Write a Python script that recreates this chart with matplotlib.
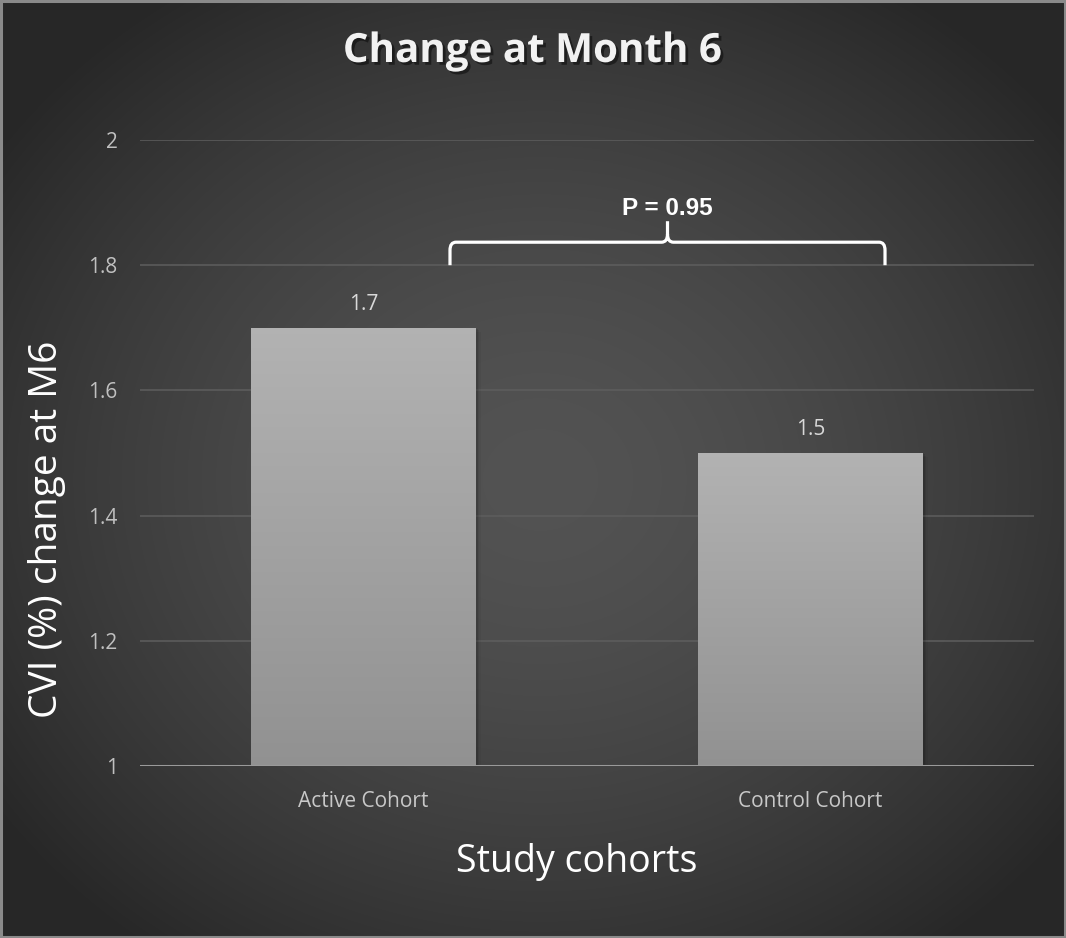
import numpy as np
import matplotlib
matplotlib.use("Agg")
import matplotlib.pyplot as plt
from matplotlib.path import Path
from matplotlib.patches import PathPatch, Rectangle
import matplotlib.patheffects as pe

# Data
cohorts = ["Active Cohort", "Control Cohort"]
cvi_change = [1.7, 1.5]
y_ticks = [1, 1.2, 1.4, 1.6, 1.8, 2]
y_tick_labels = ["1", "1.2", "1.4", "1.6", "1.8", "2"]
p_value_text = "P = 0.95"

W, H, DPI = 1066, 938, 100
fig = plt.figure(figsize=(W / DPI, H / DPI), dpi=DPI)

# Radial gradient background
bg_ax = fig.add_axes([0, 0, 1, 1], zorder=-10)
yy, xx = np.mgrid[0:H, 0:W]
cx, cy = 540, 480
r = np.sqrt(((xx - cx) / (W * 0.62)) ** 2 + ((yy - cy) / (H * 0.62)) ** 2)
r = np.clip(r, 0, 1)
lum = 0.325 - 0.17 * r ** 1.6
bg_ax.imshow(np.dstack([lum, lum, lum]), extent=[0, 1, 0, 1], aspect="auto",
             interpolation="bilinear")
bg_ax.set_axis_off()
fig.patches.append(Rectangle((0.001, 0.001), 0.998, 0.998, transform=fig.transFigure,
                             fill=False, edgecolor="#8a8a8a", linewidth=2.2, zorder=5))

ax = fig.add_axes([140 / W, 172 / H, 894 / W, 626 / H])
ax.patch.set_alpha(0)
for s in ax.spines.values():
    s.set_visible(False)

x = np.arange(len(cohorts))
ax.set_xlim(-0.5, len(cohorts) - 0.5)
ax.set_ylim(1, 2)

# Gridlines
for t in y_ticks[1:]:
    ax.axhline(t, color="#5e5e5e", linewidth=1.1, zorder=1)
ax.axhline(1, color="#9a9a9a", linewidth=2.2, zorder=4)

ui_font = ["Open Sans", "DejaVu Sans"]

# Bars with vertical gradient fill and soft shadow
bars = ax.bar(x, [v - 1 for v in cvi_change], bottom=1, width=0.503,
              facecolor="none", edgecolor="none", zorder=3)
grad = np.linspace(0.70, 0.57, 256).reshape(-1, 1)
for b in bars:
    x0, y0 = b.get_x(), b.get_y()
    w, h = b.get_width(), b.get_height()
    for k, a in enumerate([0.10, 0.07, 0.04]):
        ax.add_patch(Rectangle((x0 + 0.004 * (k + 1), y0), w, h - 0.002 * (k + 1),
                               facecolor="black", edgecolor="none", alpha=a, zorder=2))
    im = ax.imshow(np.dstack([grad, grad, grad]), extent=[x0, x0 + w, y0, y0 + h],
                   aspect="auto", interpolation="bilinear", zorder=3)
    im.set_clip_path(b)
    ax.text(x0 + w / 2, y0 + h + 0.038, f"{y0 + h:g}", ha="center", va="center",
            color="#d9d9d9", fontsize=15, family=ui_font, zorder=5)

ax.set_xticks(x)
ax.set_xticklabels(cohorts, color="#c8c8c8", fontsize=15, family=ui_font)
ax.set_yticks(y_ticks)
ax.set_yticklabels(y_tick_labels, color="#c0c0c0", fontsize=15, family=ui_font)
ax.tick_params(axis="x", length=0, pad=18)
ax.tick_params(axis="y", length=0, pad=16)

fig.text(57 / W, 1 - 529 / H, "CVI (%) change at M6", rotation=90,
         rotation_mode="anchor", ha="center", va="baseline", color="white",
         fontsize=28, family=ui_font)
fig.text(577 / W, 1 - 872 / H, "Study cohorts", ha="center", va="baseline",
         color="white", fontsize=27, family=ui_font)

fig.text(532 / W, 1 - 62 / H, "Change at Month 6", ha="center", va="baseline",
         color="#f2f2f2", fontsize=29, fontweight="bold", family=ui_font,
         path_effects=[pe.SimplePatchShadow(offset=(2, -2), shadow_rgbFace="black",
                                            alpha=0.45), pe.Normal()])

# Curly brace between the two cohorts
px_x = 1.0 / 447
px_y = 0.2 / 125.2
bl, br = 0.1935, 1.1667
bc = (bl + br) / 2
y_base, y_arm, y_tip = 1.8, 1.8 + 23 * px_y, 1.8 + 44 * px_y
rx, ry = 6 * px_x, 8 * px_y
verts = [
    (bl, y_base), (bl, y_arm - ry), (bl, y_arm), (bl + rx, y_arm),
    (bc - rx, y_arm), (bc, y_arm), (bc, y_arm + ry), (bc, y_tip),
    (bc, y_arm + ry), (bc, y_arm), (bc + rx, y_arm), (br - rx, y_arm),
    (br, y_arm), (br, y_arm - ry), (br, y_base),
]
codes = [Path.MOVETO, Path.LINETO, Path.CURVE3, Path.CURVE3,
         Path.LINETO, Path.CURVE3, Path.CURVE3, Path.LINETO,
         Path.MOVETO, Path.CURVE3, Path.CURVE3, Path.LINETO,
         Path.CURVE3, Path.CURVE3, Path.LINETO]
ax.add_patch(PathPatch(Path(verts, codes), facecolor="none", edgecolor="white",
                       linewidth=2.3, capstyle="butt", joinstyle="round", zorder=5,
                       clip_on=False))
ax.text(bc, 1.8 + 57 * px_y, p_value_text, ha="center", va="center", color="white",
        fontsize=17.5, fontweight="bold", family=["Liberation Sans", "DejaVu Sans"],
        zorder=5)

fig.savefig("out.png", dpi=DPI)
